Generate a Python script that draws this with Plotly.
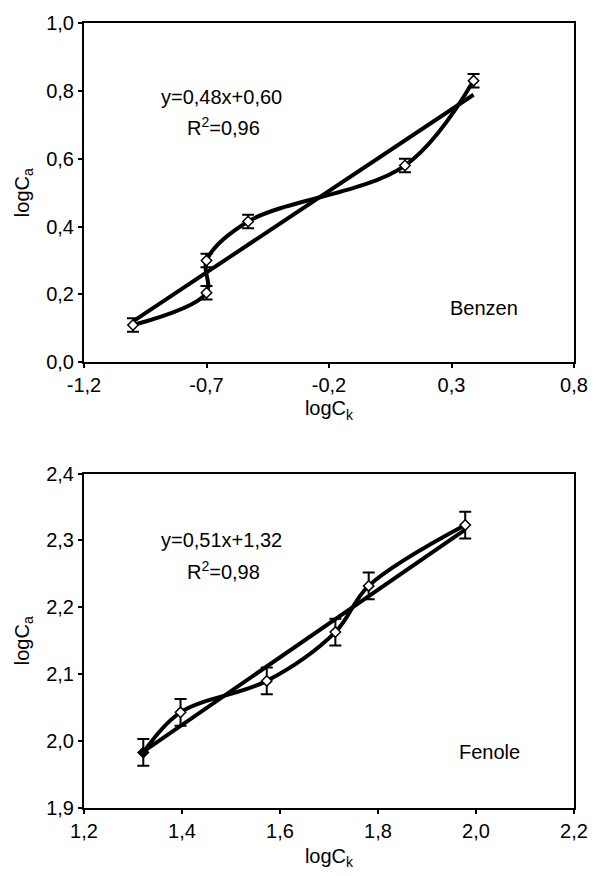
import numpy as np
import plotly.graph_objects as go

# ---- data ----
benz_x = [-1.00, -0.70, -0.70, -0.53, 0.11, 0.39]
benz_y = [0.110, 0.205, 0.300, 0.415, 0.580, 0.830]
benz_err = [0.02, 0.02, 0.02, 0.02, 0.02, 0.02]

fen_x = [1.321, 1.397, 1.573, 1.713, 1.781, 1.978]
fen_y = [1.983, 2.043, 2.090, 2.163, 2.232, 2.323]
fen_err = [0.02, 0.02, 0.02, 0.02, 0.02, 0.02]

benz_xticks = [-1.2, -0.7, -0.2, 0.3, 0.8]
benz_xticktext = ["-1,2", "-0,7", "-0,2", "0,3", "0,8"]
benz_yticks = [0.0, 0.2, 0.4, 0.6, 0.8, 1.0]
fen_xticks = [1.2, 1.4, 1.6, 1.8, 2.0, 2.2]
fen_yticks = [1.9, 2.0, 2.1, 2.2, 2.3, 2.4]

benz_eq = ["y=0,48x+0,60", "R<sup>2</sup>=0,96"]
fen_eq = ["y=0,51x+1,32", "R<sup>2</sup>=0,98"]

FONT = "Liberation Sans, Arial, Helvetica, sans-serif"
FS = 20


def fit_line(x, y):
    k, b = np.polyfit(x, y, 1)
    xs = np.array([min(x), max(x)])
    return xs, k * xs + b


fig = go.Figure()


def add_panel(x, y, err, xa, ya, first_fill="white"):
    # smooth curve through the points
    fig.add_trace(go.Scatter(x=x, y=y, mode="lines",
                             line=dict(shape="spline", smoothing=1.0, color="black", width=4),
                             xaxis=xa, yaxis=ya, showlegend=False, hoverinfo="skip"))
    # regression line
    lx, ly = fit_line(x, y)
    fig.add_trace(go.Scatter(x=lx, y=ly, mode="lines",
                             line=dict(color="black", width=4),
                             xaxis=xa, yaxis=ya, showlegend=False, hoverinfo="skip"))
    # markers with error bars
    fills = [first_fill] + ["white"] * (len(x) - 1)
    fig.add_trace(go.Scatter(x=x, y=y, mode="markers",
                             marker=dict(symbol="diamond", size=8, color=fills,
                                         line=dict(color="black", width=1.5)),
                             error_y=dict(type="data", array=err, visible=True,
                                          color="black", thickness=2, width=6),
                             xaxis=xa, yaxis=ya, showlegend=False))


add_panel(benz_x, benz_y, benz_err, "x", "y")
add_panel(fen_x, fen_y, fen_err, "x2", "y2", first_fill="black")

axis_common = dict(showline=True, linecolor="black", linewidth=2, mirror=True,
                   ticks="outside", ticklen=4, tickwidth=1.5, tickcolor="black",
                   showgrid=False, zeroline=False, tickformat=".1f",
                   tickfont=dict(family=FONT, size=FS, color="black"),
                   title_font=dict(family=FONT, size=FS, color="black"))

fig.update_layout(
    width=600, height=876,
    margin=dict(l=84, r=26, t=16, b=62),
    paper_bgcolor="white", plot_bgcolor="white",
    separators=",.",
    font=dict(family=FONT, size=FS, color="black"),
    xaxis=dict(axis_common, domain=[0, 1], anchor="y", range=[-1.2, 0.8],
               tickmode="array", tickvals=benz_xticks, ticktext=benz_xticktext,
               title=dict(text="logC<sub>k</sub>", standoff=6)),
    yaxis=dict(axis_common, domain=[0.5677, 1.0], anchor="x", range=[0.0, 1.0],
               tickmode="array", tickvals=benz_yticks,
               title=dict(text="logC<sub>a</sub>", standoff=11)),
    xaxis2=dict(axis_common, domain=[0, 1], anchor="y2", range=[1.2, 2.2],
                tickmode="array", tickvals=fen_xticks,
                title=dict(text="logC<sub>k</sub>", standoff=8)),
    yaxis2=dict(axis_common, domain=[0.0, 0.4261], anchor="x2", range=[1.9, 2.4],
                tickmode="array", tickvals=fen_yticks,
                title=dict(text="logC<sub>a</sub>", standoff=11)),
)

ann_font = dict(family=FONT, size=FS, color="black")
annotations = [
    dict(x=-0.64, y=0.783, xref="x", yref="y", text=benz_eq[0], showarrow=False, font=ann_font),
    dict(x=-0.632, y=0.696, xref="x", yref="y", text=benz_eq[1], showarrow=False, font=ann_font),
    dict(x=0.434, y=0.16, xref="x", yref="y", text="Benzen", showarrow=False, font=ann_font),
    dict(x=1.481, y=2.30, xref="x2", yref="y2", text=fen_eq[0], showarrow=False, font=ann_font),
    dict(x=1.485, y=2.255, xref="x2", yref="y2", text=fen_eq[1], showarrow=False, font=ann_font),
    dict(x=2.027, y=1.983, xref="x2", yref="y2", text="Fenole", showarrow=False, font=ann_font),
]
fig.update_layout(annotations=annotations)

fig.write_html(
    "out.html",
    config={"displayModeBar": False},
    post_script="document.body.style.margin='0';document.body.style.padding='0';"
                "document.body.style.overflow='hidden';"
                "document.documentElement.style.overflow='hidden';",
)
